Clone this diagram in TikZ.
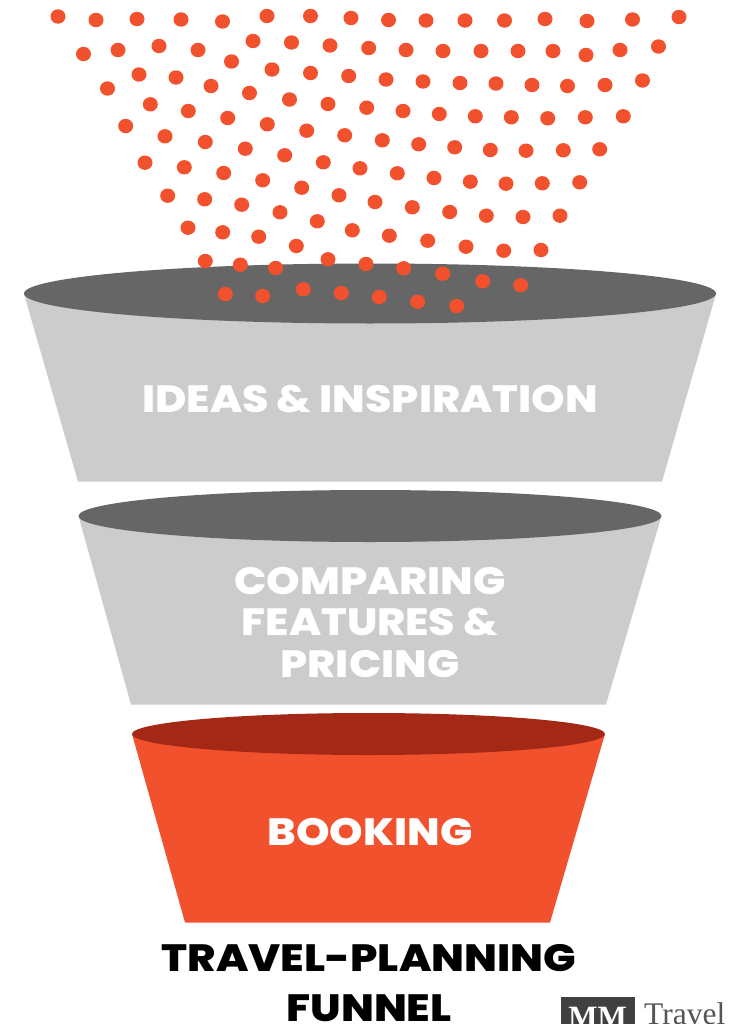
\documentclass[tikz,border=0pt]{standalone}
\usepackage{fontspec}
\setmainfont{Poppins}[BoldFont={* ExtraBold},BoldFeatures={FakeStretch=1.122}]
\newfontfamily\titlefont{Poppins ExtraBold}[FakeStretch=1.133]
\newfontfamily\logofont{Liberation Serif}
\definecolor{fgray}{HTML}{CCCCCC}
\definecolor{fdark}{HTML}{666666}
\definecolor{fred}{HTML}{F2512D}
\definecolor{fmaroon}{HTML}{A32916}
\definecolor{logogray}{HTML}{404040}
\definecolor{logotext}{HTML}{555555}
\tikzset{
  fdot/.style={fill=fred,draw=none},
  flabel/.style={font=\bfseries\fontsize{38}{41.5}\selectfont,text=white,align=center,inner sep=0pt},
  ftitle/.style={font=\titlefont\fontsize{38}{49.5}\selectfont,text=black,align=center,inner sep=0pt}
}
\begin{document}
\begin{tikzpicture}[x=1pt,y=-1pt]
\useasboundingbox (0,0) rectangle (728,1024);
\clip (0,0) rectangle (728,1024);
\fill[white] (0,0) rectangle (728,1024);
% funnels
\fill[fgray] (24,294) -- (716,294) -- (662,481.5) -- (78,481.5) -- cycle;
\fill[fdark] (370,293.5) ellipse [x radius=346,y radius=30];
\fill[fgray] (78.5,516) -- (661.5,516) -- (606,704.5) -- (131,704.5) -- cycle;
\fill[fdark] (370,516) ellipse [x radius=291.5,y radius=26];
\fill[fred] (132,734) -- (605,734) -- (550,922.5) -- (185,922.5) -- cycle;
\fill[fmaroon] (368.5,734) ellipse [x radius=236.5,y radius=21];
% dots
\foreach \px/\py in {
58/16.5,96/20,137/19,181/19.5,222.5/21.5,267/16,310.5/16,351/18,388.5/20,426/20.5,465/20.5,504.5/20.5,545/19,587/21,632.5/19.5,679/17,
83.5/54,118/50,159/46,198/50,231.5/61.5,253/41,291.5/42.5,330/45.5,368.7/48,406/50,443/51,481/51,518/51,553/51,586/55,620/50,658.5/46.5,
107.5/88.5,139/74.5,176/77.5,211/86,249.5/93,272/69.5,310.5/73,348.7/76,386/79.5,423/81.5,460/83,496/83.5,532/85,567.5/86,605/85,642.5/80.5,
125.7/126,150.3/104.3,188.3/111,227.7/118,267.3/124.3,289.5/99.5,328/104,366.7/107.7,403/111,439.3/114,475.3/116.3,511.3/117.3,547.7/118.3,585.3/117.3,623.3/116.3,
145/162.7,165/136.3,205.3/142,245.3/148.7,306.7/130.7,344.7/135.3,382.3/140.3,418.7/144.3,454.7/147.3,490.3/150,526/150.7,563.3/150.3,599.7/149.3,
184.3/167.3,223.7/173,262.7/180.3,284.7/155.3,323.3/162.3,360/168.3,397.3/173.3,434/178,470.3/181.7,506/183.7,542.3/183.3,579.7/182.3,
167.7/195.7,204.7/199.3,241.7/204.7,280/212.3,301.7/187.7,339/195.3,375/202,412.3/207.3,449.7/212,486.3/215.7,523/217,560/215.7,
188/227.7,222.7/232.3,258.7/236.7,296.3/246,317.3/221.3,352.3/230.3,389.3/235.7,427.7/240.7,466/246.7,503.7/250.7,541/250,
205.3/261,240.3/264.7,275.7/268,328/259.3,366/264,403.7/268.3,442.7/273.7,482.7/281.3,520.7/285.3,
225.3/294,262.7/296,303.3/289.3,341.3/293,379.3/297,417.7/301.7,456.7/306}
  {\fill[fdot] (\px,\py) ellipse [x radius=7.5,y radius=7.2];}
% labels
\node[flabel] (ideas) at (370,399) {IDEAS \& INSPIRATION};
\node[flabel] (compare) at (370,622) {COMPARING\\FEATURES \&\\PRICING};
\node[flabel] (booking) at (370,832) {BOOKING};
\node[ftitle] (title) at (369,983) {TRAVEL-PLANNING\\FUNNEL};
% logo
\fill[logogray] (561,997) rectangle (635,1040);
\node[inner sep=0pt,text=white,font=\logofont\bfseries\fontsize{31}{31}\selectfont,anchor=base] (mm) at (597.5,1027) {MM};
\node[inner sep=0pt,text=logotext,font=\logofont\fontsize{31.5}{31.5}\selectfont,anchor=base west] (travel) at (644,1024.5) {Travel};
\end{tikzpicture}
\end{document}
